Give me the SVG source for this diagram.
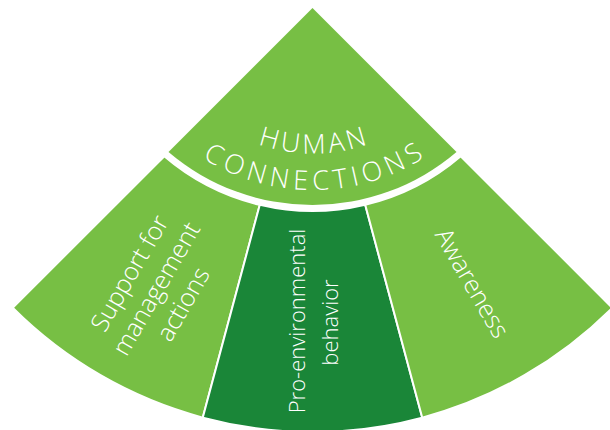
<svg xmlns="http://www.w3.org/2000/svg" width="610" height="430" viewBox="0 0 610 430">
  <style>
    .light { fill: #77BF44; }
    .dark { fill: #1A8638; }
    .seg { stroke: #ffffff; stroke-width: 2; stroke-linejoin: miter; }
    .lbl { fill: #ffffff; font-family: "Open Sans", "DejaVu Sans", sans-serif; font-weight: 300; text-anchor: middle; }
    .title { font-size: 27px; }
    .side { font-size: 25px; }
    .mid { font-size: 22px; }
  </style>
  <defs>
    <path id="arcHuman" d="M186.3,95.3 A167,167 0 0 0 439.7,95.3"/>
    <path id="arcConn" d="M154.4,116.1 A207,207 0 0 0 471.6,116.1"/>
  </defs>
  <rect width="610" height="430" fill="#ffffff"/>

  <g id="human-connections">
    <path class="light" d="M312.5,8 L456.5,152 A222,222 0 0 1 168.5,152 Z"/>
    <text class="lbl title" letter-spacing="3.5"><textPath href="#arcHuman" startOffset="50.5%">HUMAN</textPath></text>
    <text class="lbl title" letter-spacing="5"><textPath href="#arcConn" startOffset="50.8%">CONNECTIONS</textPath></text>
  </g>

  <g id="support">
    <path class="light seg" d="M164.3,156.2 L12.7,307.8 A424,424 0 0 0 202.8,417.6 L259.8,204.8 A228,228 0 0 1 164.3,156.2 Z"/>
    <text class="lbl side" transform="translate(137,277.5) rotate(-60)">Support for</text>
    <text class="lbl side" transform="translate(163.8,293) rotate(-60)">management</text>
    <text class="lbl side" transform="translate(190.6,308.5) rotate(-60)">actions</text>
  </g>

  <g id="pro-environmental">
    <path class="dark seg" d="M259.8,204.8 L202.8,417.6 A424,424 0 0 0 422.2,417.6 L365.2,204.8 A228,228 0 0 1 259.8,204.8 Z"/>
    <text class="lbl mid" transform="translate(305,321) rotate(-90)">Pro-environmental</text>
    <text class="lbl mid" transform="translate(338,322.5) rotate(-90)">behavior</text>
  </g>

  <g id="awareness">
    <path class="light seg" d="M365.2,204.8 L422.2,417.6 A424,424 0 0 0 612.3,307.8 L460.7,156.2 A228,228 0 0 1 365.2,204.8 Z"/>
    <text class="lbl side" transform="translate(464.7,287.5) rotate(60)">Awareness</text>
  </g>

  <g id="connectors"></g>
</svg>
